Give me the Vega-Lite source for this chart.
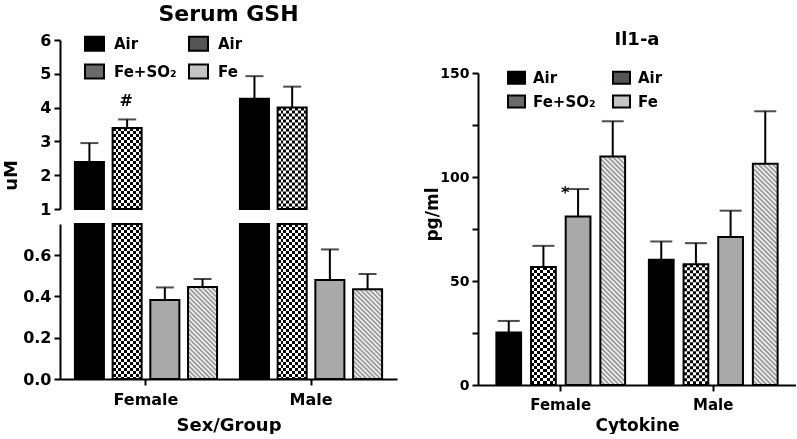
{
"$schema": "https://vega.github.io/schema/vega-lite/v6.json",
"background": "white",
"padding": {"left": 2, "top": 3, "right": 0, "bottom": 0},
"config": {
  "view": {"stroke": null},
  "font": "DejaVu Sans",
  "axis": {"domainColor": "black", "domainWidth": 2, "tickColor": "black", "tickWidth": 2, "tickSize": 6, "labelColor": "black", "labelFont": "DejaVu Sans", "labelFontWeight": "bold", "labelFontSize": 16, "titleColor": "black", "titleFont": "DejaVu Sans", "titleFontWeight": "bold", "titleFontSize": 18, "grid": false},
  "legend": {"labelFont": "DejaVu Sans", "labelFontWeight": "bold", "labelFontSize": 15, "labelColor": "black", "padding": 0},
  "title": {"font": "DejaVu Sans", "fontWeight": "bold", "color": "black"}
},
"datasets": {
  "gsh": [
    {"sex": "Female", "g": "A1", "mean": 2.39, "upper": 2.95, "sig": ""},
    {"sex": "Female", "g": "F1", "mean": 3.40, "upper": 3.65, "sig": "#"},
    {"sex": "Female", "g": "A2", "mean": 0.382, "upper": 0.443, "sig": ""},
    {"sex": "Female", "g": "F2", "mean": 0.445, "upper": 0.484, "sig": ""},
    {"sex": "Male", "g": "A1", "mean": 4.26, "upper": 4.93, "sig": ""},
    {"sex": "Male", "g": "F1", "mean": 4.0, "upper": 4.62, "sig": ""},
    {"sex": "Male", "g": "A2", "mean": 0.479, "upper": 0.627, "sig": ""},
    {"sex": "Male", "g": "F2", "mean": 0.434, "upper": 0.508, "sig": ""}
  ],
  "il": [
    {"sex": "Female", "g": "A1", "mean": 25.2, "upper": 30.8, "sig": ""},
    {"sex": "Female", "g": "F1", "mean": 56.7, "upper": 66.9, "sig": ""},
    {"sex": "Female", "g": "A2", "mean": 81.0, "upper": 94.2, "sig": "*"},
    {"sex": "Female", "g": "F2", "mean": 109.9, "upper": 126.8, "sig": ""},
    {"sex": "Male", "g": "A1", "mean": 60.2, "upper": 69.0, "sig": ""},
    {"sex": "Male", "g": "F1", "mean": 58.1, "upper": 68.2, "sig": ""},
    {"sex": "Male", "g": "A2", "mean": 71.1, "upper": 83.8, "sig": ""},
    {"sex": "Male", "g": "F2", "mean": 106.4, "upper": 131.6, "sig": ""}
  ]
},
"spacing": 26,
"resolve": {"scale": {"fill": "independent", "x": "independent", "y": "independent", "xOffset": "independent"}, "legend": {"fill": "independent"}},
"hconcat": [
{
  "vconcat": [
  {
    "width": 337, "height": 169,
    "title": {"text": "Serum GSH", "fontSize": 22, "frame": "group", "anchor": "middle", "offset": 6},
    "data": {"name": "gsh"},
    "transform": [{"filter": "datum.mean >= 1"}],
    "encoding": {
      "x": {"field": "sex", "type": "nominal", "scale": {"domain": ["Female", "Male"], "paddingInner": 0.118, "paddingOuter": 0.08}, "axis": null},
      "xOffset": {"field": "g", "type": "nominal", "scale": {"domain": ["A1", "F1", "A2", "F2"], "paddingInner": 0.23, "paddingOuter": 0.045}},
      "y": {"field": "mean", "type": "quantitative", "scale": {"domain": [1, 6], "clamp": true, "nice": false, "zero": false}, "axis": {"title": "uM", "values": [1, 2, 3, 4, 5, 6], "titleX": -40, "titleY": 135, "labelPadding": 3}}
    },
    "layer": [
      {"transform": [{"filter": "datum.g === 'F1'"}],
       "mark": {"type": "rule", "strokeWidth": 29, "strokeDash": [3, 3], "color": "black"},
       "encoding": {"y2": {"datum": 1}}},
      {"transform": [{"filter": "datum.g === 'F1'"}],
       "mark": {"type": "bar", "blend": "difference", "fill": {"gradient": "linear", "x1": 0, "y1": 0, "x2": 1, "y2": 0, "stops": [{"offset":0,"color":"#000"},{"offset":0.1,"color":"#000"},{"offset":0.1,"color":"#fff"},{"offset":0.2,"color":"#fff"},{"offset":0.2,"color":"#000"},{"offset":0.3,"color":"#000"},{"offset":0.3,"color":"#fff"},{"offset":0.4,"color":"#fff"},{"offset":0.4,"color":"#000"},{"offset":0.5,"color":"#000"},{"offset":0.5,"color":"#fff"},{"offset":0.6,"color":"#fff"},{"offset":0.6,"color":"#000"},{"offset":0.7,"color":"#000"},{"offset":0.7,"color":"#fff"},{"offset":0.8,"color":"#fff"},{"offset":0.8,"color":"#000"},{"offset":0.9,"color":"#000"},{"offset":0.9,"color":"#fff"},{"offset":1,"color":"#fff"}]}},
       "encoding": {"y2": {"datum": 1}}},
      {"mark": {"type": "bar", "stroke": "black", "strokeWidth": 2},
       "encoding": {
         "y2": {"datum": 1},
         "fill": {"field": "g", "type": "nominal",
           "scale": {"domain": ["A1", "F1", "A2", "F2"], "range": ["black", "#6a6a6a", "#555555", "#c4c4c4"]},
           "condition": [{"test": "datum.g === 'A2'", "value": "#a9a9a9"}, {"test": "datum.g === 'F1' || datum.g === 'F2'", "value": "transparent"}],
           "legend": {"orient": "none", "legendX": 24, "legendY": -7, "columns": 2, "title": null, "symbolType": "M-1,-0.737H1V0.737H-1Z", "symbolSize": 361, "symbolStrokeColor": "black", "symbolStrokeWidth": 2, "labelFontSize": 15, "labelOffset": 9, "columnPadding": 8, "rowPadding": 5,
             "labelExpr": "datum.value === 'F1' ? 'Fe+SO\u2082' : datum.value === 'F2' ? 'Fe' : 'Air'"
           }
         }
       }},
      {"mark": {"type": "rule", "strokeWidth": 2, "color": "black"},
       "encoding": {"y2": {"field": "upper"}}},
      {"mark": {"type": "tick", "size": 18, "thickness": 2, "color": "black"},
       "encoding": {"y": {"field": "upper", "type": "quantitative"}}},
      {"transform": [{"filter": "datum.sig !== ''"}],
       "mark": {"type": "text", "fontSize": 16, "fontWeight": "bold", "color": "black", "baseline": "alphabetic", "dy": -13, "dx": -1},
       "encoding": {"y": {"field": "upper", "type": "quantitative"}, "text": {"field": "sig"}}}
    ]
  },
  {
    "width": 337, "height": 155,
    "data": {"name": "gsh"},
    "encoding": {
      "x": {"field": "sex", "type": "nominal", "scale": {"domain": ["Female", "Male"], "paddingInner": 0.118, "paddingOuter": 0.08}, "axis": {"title": "Sex/Group", "labelAngle": 0, "labelFontSize": 16, "labelPadding": 6, "titlePadding": 9, "titleFontSize": 18}},
      "xOffset": {"field": "g", "type": "nominal", "scale": {"domain": ["A1", "F1", "A2", "F2"], "paddingInner": 0.23, "paddingOuter": 0.045}},
      "y": {"field": "mean", "type": "quantitative", "scale": {"domain": [0, 0.75], "clamp": true, "nice": false}, "axis": {"title": null, "values": [0, 0.2, 0.4, 0.6], "format": ".1f", "labelPadding": 3}}
    },
    "layer": [
      {"transform": [{"filter": "datum.g === 'F2'"}],
       "mark": {"type": "bar", "fill": {"gradient": "linear", "x1": 0, "y1": 1, "x2": 0.2146, "y2": -0.147, "stops": [{"offset":0,"color":"#888"},{"offset":0.0125,"color":"#fff"},{"offset":0.025,"color":"#888"},{"offset":0.0375,"color":"#fff"},{"offset":0.05,"color":"#888"},{"offset":0.0625,"color":"#fff"},{"offset":0.075,"color":"#888"},{"offset":0.0875,"color":"#fff"},{"offset":0.1,"color":"#888"},{"offset":0.1125,"color":"#fff"},{"offset":0.125,"color":"#888"},{"offset":0.1375,"color":"#fff"},{"offset":0.15,"color":"#888"},{"offset":0.1625,"color":"#fff"},{"offset":0.175,"color":"#888"},{"offset":0.1875,"color":"#fff"},{"offset":0.2,"color":"#888"},{"offset":0.2125,"color":"#fff"},{"offset":0.225,"color":"#888"},{"offset":0.2375,"color":"#fff"},{"offset":0.25,"color":"#888"},{"offset":0.2625,"color":"#fff"},{"offset":0.275,"color":"#888"},{"offset":0.2875,"color":"#fff"},{"offset":0.3,"color":"#888"},{"offset":0.3125,"color":"#fff"},{"offset":0.325,"color":"#888"},{"offset":0.3375,"color":"#fff"},{"offset":0.35,"color":"#888"},{"offset":0.3625,"color":"#fff"},{"offset":0.375,"color":"#888"},{"offset":0.3875,"color":"#fff"},{"offset":0.4,"color":"#888"},{"offset":0.4125,"color":"#fff"},{"offset":0.425,"color":"#888"},{"offset":0.4375,"color":"#fff"},{"offset":0.45,"color":"#888"},{"offset":0.4625,"color":"#fff"},{"offset":0.475,"color":"#888"},{"offset":0.4875,"color":"#fff"},{"offset":0.5,"color":"#888"},{"offset":0.5125,"color":"#fff"},{"offset":0.525,"color":"#888"},{"offset":0.5375,"color":"#fff"},{"offset":0.55,"color":"#888"},{"offset":0.5625,"color":"#fff"},{"offset":0.575,"color":"#888"},{"offset":0.5875,"color":"#fff"},{"offset":0.6,"color":"#888"},{"offset":0.6125,"color":"#fff"},{"offset":0.625,"color":"#888"},{"offset":0.6375,"color":"#fff"},{"offset":0.65,"color":"#888"},{"offset":0.6625,"color":"#fff"},{"offset":0.675,"color":"#888"},{"offset":0.6875,"color":"#fff"},{"offset":0.7,"color":"#888"},{"offset":0.7125,"color":"#fff"},{"offset":0.725,"color":"#888"},{"offset":0.7375,"color":"#fff"},{"offset":0.75,"color":"#888"},{"offset":0.7625,"color":"#fff"},{"offset":0.775,"color":"#888"},{"offset":0.7875,"color":"#fff"},{"offset":0.8,"color":"#888"},{"offset":0.8125,"color":"#fff"},{"offset":0.825,"color":"#888"},{"offset":0.8375,"color":"#fff"},{"offset":0.85,"color":"#888"},{"offset":0.8625,"color":"#fff"},{"offset":0.875,"color":"#888"},{"offset":0.8875,"color":"#fff"},{"offset":0.9,"color":"#888"},{"offset":0.9125,"color":"#fff"},{"offset":0.925,"color":"#888"},{"offset":0.9375,"color":"#fff"},{"offset":0.95,"color":"#888"},{"offset":0.9625,"color":"#fff"},{"offset":0.975,"color":"#888"},{"offset":0.9875,"color":"#fff"}]}},
       "encoding": {"y": {"datum": 0.75, "type": "quantitative"}, "y2": {"datum": 0}}},
      {"transform": [{"filter": "datum.g === 'F2'"}],
       "mark": {"type": "bar", "fill": "white", "stroke": "white", "strokeWidth": 1},
       "encoding": {"y2": {"datum": 0.75}}},
      {"transform": [{"filter": "datum.g === 'F1'"}],
       "mark": {"type": "rule", "strokeWidth": 29, "strokeDash": [3, 3], "color": "black"},
       "encoding": {"y2": {"datum": 0}}},
      {"transform": [{"filter": "datum.g === 'F1'"}],
       "mark": {"type": "bar", "blend": "difference", "fill": {"gradient": "linear", "x1": 0, "y1": 0, "x2": 1, "y2": 0, "stops": [{"offset":0,"color":"#000"},{"offset":0.1,"color":"#000"},{"offset":0.1,"color":"#fff"},{"offset":0.2,"color":"#fff"},{"offset":0.2,"color":"#000"},{"offset":0.3,"color":"#000"},{"offset":0.3,"color":"#fff"},{"offset":0.4,"color":"#fff"},{"offset":0.4,"color":"#000"},{"offset":0.5,"color":"#000"},{"offset":0.5,"color":"#fff"},{"offset":0.6,"color":"#fff"},{"offset":0.6,"color":"#000"},{"offset":0.7,"color":"#000"},{"offset":0.7,"color":"#fff"},{"offset":0.8,"color":"#fff"},{"offset":0.8,"color":"#000"},{"offset":0.9,"color":"#000"},{"offset":0.9,"color":"#fff"},{"offset":1,"color":"#fff"}]}},
       "encoding": {"y2": {"datum": 0}}},
      {"mark": {"type": "bar", "stroke": "black", "strokeWidth": 2},
       "encoding": {
         "y2": {"datum": 0},
         "fill": {"field": "g", "type": "nominal",
           "scale": {"domain": ["A1", "F1", "A2", "F2"], "range": ["black", "#6a6a6a", "#555555", "#c4c4c4"]},
           "condition": [{"test": "datum.g === 'A2'", "value": "#a9a9a9"}, {"test": "datum.g === 'F1' || datum.g === 'F2'", "value": "transparent"}],
           "legend": null}
       }},
      {"transform": [{"filter": "datum.mean < 0.75"}],
       "mark": {"type": "rule", "strokeWidth": 2, "color": "black"},
       "encoding": {"y2": {"field": "upper"}}},
      {"transform": [{"filter": "datum.mean < 0.75"}],
       "mark": {"type": "tick", "size": 18, "thickness": 2, "color": "black"},
       "encoding": {"y": {"field": "upper", "type": "quantitative"}}}
    ]
  }
  ],
  "spacing": 15,
  "bounds": "flush",
  "resolve": {"scale": {"fill": "independent", "y": "independent"}, "legend": {"fill": "independent"}}
},
{
  "vconcat": [
  {
    "width": 318, "height": 18,
    "data": {"values": [{"t": ""}]},
    "mark": {"type": "text"},
    "encoding": {"text": {"field": "t"}}
  },
  {
  "width": 318, "height": 312,
  "title": {"text": "Il1-a", "fontSize": 18, "frame": "group", "anchor": "middle", "offset": 17},
  "data": {"name": "il"},
  "encoding": {
    "x": {"field": "sex", "type": "nominal", "scale": {"domain": ["Female", "Male"], "paddingInner": 0.135, "paddingOuter": 0.11}, "axis": {"title": "Cytokine", "labelAngle": 0, "labelFontSize": 15, "labelPadding": 6, "titlePadding": 5, "titleFontSize": 17}},
    "xOffset": {"field": "g", "type": "nominal", "scale": {"domain": ["A1", "F1", "A2", "F2"], "paddingInner": 0.286, "paddingOuter": 0.046}},
    "y": {"field": "mean", "type": "quantitative", "scale": {"domain": [0, 150], "clamp": true, "nice": false}, "axis": {"title": "pg/ml", "values": [0, 25, 50, 75, 100, 125, 150], "labelExpr": "datum.value % 50 === 0 ? datum.label : ''", "labelFontSize": 14, "labelPadding": 3, "titleFontSize": 17, "titleX": -37, "titleY": 141}}
  },
  "layer": [
    {"transform": [{"filter": "datum.g === 'F2'"}],
     "mark": {"type": "bar", "fill": {"gradient": "linear", "x1": 0, "y1": 1, "x2": 0.0853, "y2": -0.0727, "stops": [{"offset":0,"color":"#888"},{"offset":0.007,"color":"#fff"},{"offset":0.014,"color":"#888"},{"offset":0.021,"color":"#fff"},{"offset":0.028,"color":"#888"},{"offset":0.035,"color":"#fff"},{"offset":0.042,"color":"#888"},{"offset":0.049,"color":"#fff"},{"offset":0.056,"color":"#888"},{"offset":0.063,"color":"#fff"},{"offset":0.07,"color":"#888"},{"offset":0.077,"color":"#fff"},{"offset":0.084,"color":"#888"},{"offset":0.091,"color":"#fff"},{"offset":0.098,"color":"#888"},{"offset":0.105,"color":"#fff"},{"offset":0.112,"color":"#888"},{"offset":0.119,"color":"#fff"},{"offset":0.126,"color":"#888"},{"offset":0.133,"color":"#fff"},{"offset":0.14,"color":"#888"},{"offset":0.147,"color":"#fff"},{"offset":0.154,"color":"#888"},{"offset":0.161,"color":"#fff"},{"offset":0.168,"color":"#888"},{"offset":0.175,"color":"#fff"},{"offset":0.182,"color":"#888"},{"offset":0.189,"color":"#fff"},{"offset":0.196,"color":"#888"},{"offset":0.203,"color":"#fff"},{"offset":0.21,"color":"#888"},{"offset":0.217,"color":"#fff"},{"offset":0.224,"color":"#888"},{"offset":0.231,"color":"#fff"},{"offset":0.238,"color":"#888"},{"offset":0.245,"color":"#fff"},{"offset":0.252,"color":"#888"},{"offset":0.259,"color":"#fff"},{"offset":0.266,"color":"#888"},{"offset":0.273,"color":"#fff"},{"offset":0.28,"color":"#888"},{"offset":0.287,"color":"#fff"},{"offset":0.294,"color":"#888"},{"offset":0.301,"color":"#fff"},{"offset":0.308,"color":"#888"},{"offset":0.315,"color":"#fff"},{"offset":0.322,"color":"#888"},{"offset":0.329,"color":"#fff"},{"offset":0.336,"color":"#888"},{"offset":0.343,"color":"#fff"},{"offset":0.35,"color":"#888"},{"offset":0.357,"color":"#fff"},{"offset":0.364,"color":"#888"},{"offset":0.371,"color":"#fff"},{"offset":0.378,"color":"#888"},{"offset":0.385,"color":"#fff"},{"offset":0.392,"color":"#888"},{"offset":0.399,"color":"#fff"},{"offset":0.406,"color":"#888"},{"offset":0.413,"color":"#fff"},{"offset":0.42,"color":"#888"},{"offset":0.427,"color":"#fff"},{"offset":0.434,"color":"#888"},{"offset":0.441,"color":"#fff"},{"offset":0.448,"color":"#888"},{"offset":0.455,"color":"#fff"},{"offset":0.462,"color":"#888"},{"offset":0.469,"color":"#fff"},{"offset":0.476,"color":"#888"},{"offset":0.483,"color":"#fff"},{"offset":0.49,"color":"#888"},{"offset":0.497,"color":"#fff"},{"offset":0.504,"color":"#888"},{"offset":0.511,"color":"#fff"},{"offset":0.518,"color":"#888"},{"offset":0.525,"color":"#fff"},{"offset":0.532,"color":"#888"},{"offset":0.539,"color":"#fff"},{"offset":0.546,"color":"#888"},{"offset":0.553,"color":"#fff"},{"offset":0.56,"color":"#888"},{"offset":0.567,"color":"#fff"},{"offset":0.574,"color":"#888"},{"offset":0.581,"color":"#fff"},{"offset":0.588,"color":"#888"},{"offset":0.595,"color":"#fff"},{"offset":0.602,"color":"#888"},{"offset":0.609,"color":"#fff"},{"offset":0.616,"color":"#888"},{"offset":0.623,"color":"#fff"},{"offset":0.63,"color":"#888"},{"offset":0.637,"color":"#fff"},{"offset":0.644,"color":"#888"},{"offset":0.651,"color":"#fff"},{"offset":0.658,"color":"#888"},{"offset":0.665,"color":"#fff"},{"offset":0.672,"color":"#888"},{"offset":0.679,"color":"#fff"},{"offset":0.686,"color":"#888"},{"offset":0.693,"color":"#fff"},{"offset":0.7,"color":"#888"},{"offset":0.707,"color":"#fff"},{"offset":0.714,"color":"#888"},{"offset":0.721,"color":"#fff"},{"offset":0.728,"color":"#888"},{"offset":0.735,"color":"#fff"},{"offset":0.742,"color":"#888"},{"offset":0.749,"color":"#fff"},{"offset":0.756,"color":"#888"},{"offset":0.763,"color":"#fff"},{"offset":0.77,"color":"#888"},{"offset":0.777,"color":"#fff"},{"offset":0.784,"color":"#888"},{"offset":0.791,"color":"#fff"},{"offset":0.798,"color":"#888"},{"offset":0.805,"color":"#fff"},{"offset":0.812,"color":"#888"},{"offset":0.819,"color":"#fff"},{"offset":0.826,"color":"#888"},{"offset":0.833,"color":"#fff"},{"offset":0.84,"color":"#888"},{"offset":0.847,"color":"#fff"},{"offset":0.854,"color":"#888"},{"offset":0.861,"color":"#fff"},{"offset":0.868,"color":"#888"},{"offset":0.875,"color":"#fff"},{"offset":0.882,"color":"#888"},{"offset":0.889,"color":"#fff"},{"offset":0.896,"color":"#888"},{"offset":0.903,"color":"#fff"},{"offset":0.91,"color":"#888"},{"offset":0.917,"color":"#fff"},{"offset":0.924,"color":"#888"},{"offset":0.931,"color":"#fff"},{"offset":0.938,"color":"#888"},{"offset":0.945,"color":"#fff"},{"offset":0.952,"color":"#888"},{"offset":0.959,"color":"#fff"},{"offset":0.966,"color":"#888"},{"offset":0.973,"color":"#fff"},{"offset":0.98,"color":"#888"},{"offset":0.987,"color":"#fff"},{"offset":0.994,"color":"#888"}]}},
     "encoding": {"y": {"datum": 150, "type": "quantitative"}, "y2": {"datum": 0}}},
    {"transform": [{"filter": "datum.g === 'F2'"}],
     "mark": {"type": "bar", "fill": "white", "stroke": "white", "strokeWidth": 1},
     "encoding": {"y2": {"datum": 150}}},
    {"transform": [{"filter": "datum.g === 'F1'"}],
     "mark": {"type": "rule", "strokeWidth": 25, "strokeDash": [3, 3], "color": "black"},
     "encoding": {"y2": {"datum": 0}}},
    {"transform": [{"filter": "datum.g === 'F1'"}],
     "mark": {"type": "bar", "blend": "difference", "fill": {"gradient": "linear", "x1": 0, "y1": 0, "x2": 1, "y2": 0, "stops": [{"offset":0,"color":"#000"},{"offset":0.125,"color":"#000"},{"offset":0.125,"color":"#fff"},{"offset":0.25,"color":"#fff"},{"offset":0.25,"color":"#000"},{"offset":0.375,"color":"#000"},{"offset":0.375,"color":"#fff"},{"offset":0.5,"color":"#fff"},{"offset":0.5,"color":"#000"},{"offset":0.625,"color":"#000"},{"offset":0.625,"color":"#fff"},{"offset":0.75,"color":"#fff"},{"offset":0.75,"color":"#000"},{"offset":0.875,"color":"#000"},{"offset":0.875,"color":"#fff"},{"offset":1,"color":"#fff"}]}},
     "encoding": {"y2": {"datum": 0}}},
    {"mark": {"type": "bar", "stroke": "black", "strokeWidth": 2},
     "encoding": {
       "y2": {"datum": 0},
       "fill": {"field": "g", "type": "nominal",
         "scale": {"domain": ["A1", "F1", "A2", "F2"], "range": ["black", "#6a6a6a", "#555555", "#c4c4c4"]},
         "condition": [{"test": "datum.g === 'A2'", "value": "#a9a9a9"}, {"test": "datum.g === 'F1' || datum.g === 'F2'", "value": "transparent"}],
         "legend": {"orient": "none", "legendX": 29, "legendY": 28, "columns": 2, "title": null, "symbolType": "M-1,-0.706H1V0.706H-1Z", "symbolSize": 289, "symbolStrokeColor": "black", "symbolStrokeWidth": 2, "labelFontSize": 15, "labelOffset": 7, "columnPadding": 13, "rowPadding": 3,
           "labelExpr": "datum.value === 'F1' ? 'Fe+SO\u2082' : datum.value === 'F2' ? 'Fe' : 'Air'"
         }
       }
     }},
    {"mark": {"type": "rule", "strokeWidth": 2, "color": "black"},
     "encoding": {"y2": {"field": "upper"}}},
    {"mark": {"type": "tick", "size": 22, "thickness": 2, "color": "black"},
     "encoding": {"y": {"field": "upper", "type": "quantitative"}}},
    {"transform": [{"filter": "datum.sig !== ''"}],
     "mark": {"type": "text", "fontSize": 16, "fontWeight": "bold", "color": "black", "baseline": "alphabetic", "dy": 9, "dx": -13},
     "encoding": {"y": {"field": "upper", "type": "quantitative"}, "text": {"field": "sig"}}}
  ]
  }
  ],
  "spacing": 15,
  "bounds": "flush"
}
]
}
